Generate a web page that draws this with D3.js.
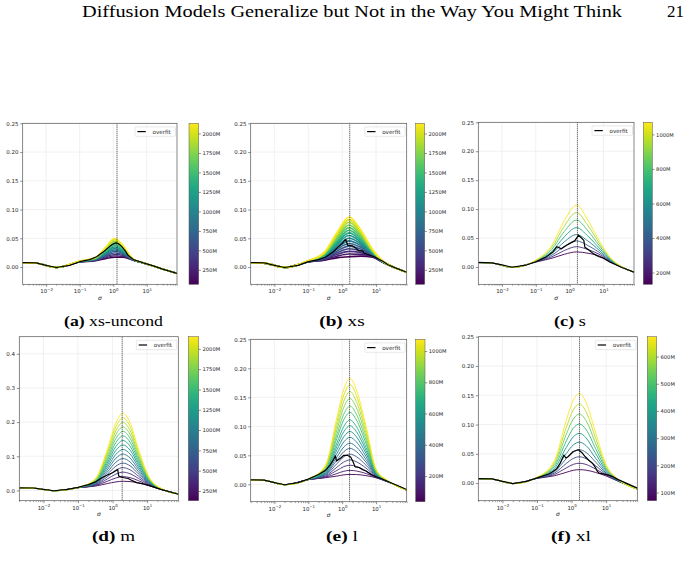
<!DOCTYPE html>
<html><head><meta charset="utf-8">
<script src="https://cdn.jsdelivr.net/npm/d3@7"></script>
<style>
html,body{margin:0;padding:0;background:#fff;}
svg{display:block;}
</style></head><body>
<svg id="fig" width="691" height="567"></svg>
<script>
// ---------------- text ----------------
const titleText = "Diffusion Models Generalize but Not in the Way You Might Think";
const pageNumber = "21";
const captionLetters = ["(a)", "(b)", "(c)", "(d)", "(e)", "(f)"];
const captionNames = ["xs-uncond", "xs", "s", "m", "l", "xl"];
const legendLabel = "overfit";
const xLabel = "σ";

// ---------------- ticks ----------------
const xTickValues = [0.01, 0.1, 1, 10];
const xTickExponents = ["\u22122", "\u22121", "0", "1"];
const yTicksSmall = [0, 0.05, 0.10, 0.15, 0.20, 0.25];
const yTicksM = [0, 0.1, 0.2, 0.3, 0.4];
const cbTicks2000 = [250, 500, 750, 1000, 1250, 1500, 1750, 2000];
const cbTicks1000 = [200, 400, 600, 800, 1000];
const cbTicks600 = [100, 200, 300, 400, 500, 600];

// ---------------- data: (a) xs-uncond ----------------
const sigmaA = [0.002, 0.005, 0.02, 0.1, 0.3, 0.6, 1.1, 2, 4, 8, 30, 80];
const itersA = [64, 223, 382, 541, 700, 859, 1018, 1177, 1336, 1495, 1654, 1813, 1972, 2131];
const curvesA = [
 [0.0075,0.0068,-0.0008,0.0085,0.0110,0.0145,0.0170,0.0170,0.0115,0.0068,-0.0035,-0.011],
 [0.0075,0.0068,-0.0008,0.0087,0.0115,0.0161,0.0195,0.0185,0.0117,0.0069,-0.0035,-0.011],
 [0.0075,0.0068,-0.0008,0.0088,0.0119,0.0177,0.0221,0.0201,0.0119,0.0069,-0.0035,-0.011],
 [0.0075,0.0068,-0.0008,0.0090,0.0124,0.0192,0.0246,0.0216,0.0121,0.0070,-0.0035,-0.011],
 [0.0075,0.0068,-0.0008,0.0091,0.0128,0.0208,0.0272,0.0232,0.0123,0.0070,-0.0035,-0.011],
 [0.0075,0.0068,-0.0008,0.0093,0.0133,0.0224,0.0297,0.0247,0.0125,0.0071,-0.0035,-0.011],
 [0.0075,0.0068,-0.0008,0.0094,0.0138,0.0240,0.0322,0.0262,0.0127,0.0071,-0.0035,-0.011],
 [0.0075,0.0068,-0.0008,0.0096,0.0142,0.0255,0.0348,0.0278,0.0128,0.0072,-0.0035,-0.011],
 [0.0075,0.0068,-0.0008,0.0097,0.0147,0.0271,0.0373,0.0293,0.0130,0.0072,-0.0035,-0.011],
 [0.0075,0.0068,-0.0008,0.0099,0.0152,0.0287,0.0398,0.0308,0.0132,0.0073,-0.0035,-0.011],
 [0.0075,0.0068,-0.0008,0.0100,0.0156,0.0303,0.0424,0.0324,0.0134,0.0073,-0.0035,-0.011],
 [0.0075,0.0068,-0.0008,0.0102,0.0161,0.0318,0.0449,0.0339,0.0136,0.0074,-0.0035,-0.011],
 [0.0075,0.0068,-0.0008,0.0103,0.0165,0.0334,0.0475,0.0355,0.0138,0.0074,-0.0035,-0.011],
 [0.0075,0.0068,-0.0008,0.0105,0.0170,0.0350,0.0500,0.0370,0.0140,0.0075,-0.0035,-0.011]
];
const overfitSigmaA = [0.002,0.005,0.01,0.02,0.05,0.1,0.2,0.32,0.5,0.79,1,1.2,1.41,1.78,2.24,2.82,4,8,15.8,30,80];
const overfitA = [0.0078,0.0072,0.003,-0.0008,0.003,0.0093,0.013,0.018,0.026,0.036,0.040,0.042,0.041,0.036,0.029,0.020,0.013,0.0072,0.002,-0.0035,-0.011];
const vlineA = 1.3;

// ---------------- data: (b) xs ----------------
const sigmaB = [0.002, 0.005, 0.02, 0.1, 0.3, 0.7, 1.6, 3.5, 8, 16, 35, 80];
const itersB = [64, 202, 340, 478, 615, 753, 891, 1029, 1167, 1305, 1442, 1580, 1718, 1856, 1994, 2131];
const curvesB = [
 [0.0075,0.0068,-0.0008,0.0088,0.0120,0.0160,0.0180,0.0190,0.0170,0.0080,-0.001,-0.009],
 [0.0075,0.0068,-0.0008,0.0089,0.0129,0.0189,0.0226,0.0221,0.0179,0.0081,-0.001,-0.009],
 [0.0075,0.0068,-0.0008,0.0091,0.0139,0.0219,0.0272,0.0251,0.0187,0.0083,-0.001,-0.009],
 [0.0075,0.0068,-0.0008,0.0092,0.0148,0.0248,0.0318,0.0282,0.0196,0.0084,-0.001,-0.009],
 [0.0075,0.0068,-0.0008,0.0094,0.0157,0.0277,0.0364,0.0313,0.0205,0.0085,-0.001,-0.009],
 [0.0075,0.0068,-0.0008,0.0095,0.0167,0.0307,0.0410,0.0343,0.0213,0.0087,-0.001,-0.009],
 [0.0075,0.0068,-0.0008,0.0097,0.0176,0.0336,0.0456,0.0374,0.0222,0.0088,-0.001,-0.009],
 [0.0075,0.0068,-0.0008,0.0098,0.0185,0.0365,0.0502,0.0405,0.0231,0.0089,-0.001,-0.009],
 [0.0075,0.0068,-0.0008,0.0100,0.0195,0.0395,0.0548,0.0435,0.0239,0.0091,-0.001,-0.009],
 [0.0075,0.0068,-0.0008,0.0101,0.0204,0.0424,0.0594,0.0466,0.0248,0.0092,-0.001,-0.009],
 [0.0075,0.0068,-0.0008,0.0103,0.0213,0.0453,0.0640,0.0497,0.0257,0.0093,-0.001,-0.009],
 [0.0075,0.0068,-0.0008,0.0104,0.0223,0.0483,0.0686,0.0527,0.0265,0.0095,-0.001,-0.009],
 [0.0075,0.0068,-0.0008,0.0106,0.0232,0.0512,0.0732,0.0558,0.0274,0.0096,-0.001,-0.009],
 [0.0075,0.0068,-0.0008,0.0107,0.0241,0.0541,0.0778,0.0589,0.0283,0.0097,-0.001,-0.009],
 [0.0075,0.0068,-0.0008,0.0109,0.0251,0.0571,0.0824,0.0619,0.0291,0.0099,-0.001,-0.009],
 [0.0075,0.0068,-0.0008,0.0110,0.0260,0.0600,0.0870,0.0650,0.0300,0.0100,-0.001,-0.009]
];
const overfitSigmaB = [0.002,0.005,0.01,0.02,0.05,0.1,0.2,0.32,0.56,0.79,1,1.26,1.35,1.45,2,2.5,3.16,4,4.47,6.3,8.9,12.6,15.8,22.4,35.5,80];
const overfitB = [0.0078,0.0072,0.003,-0.0008,0.003,0.0095,0.013,0.017,0.027,0.036,0.041,0.048,0.044,0.038,0.037,0.033,0.028,0.028,0.024,0.021,0.018,0.013,0.010,0.004,-0.001,-0.009];
const vlineB = 1.67;

// ---------------- data: (c) s ----------------
const sigmaC = [0.002, 0.005, 0.02, 0.1, 0.3, 0.7, 1.6, 3.5, 8, 16, 35, 80];
const itersC = [132, 266, 400, 534, 668, 802, 936, 1070];
const curvesC = [
 [0.0075,0.0068,-0.0008,0.0084,0.0151,0.0219,0.0260,0.0237,0.0183,0.0090,-0.0008,-0.009],
 [0.0075,0.0068,-0.0008,0.0088,0.0176,0.0284,0.0350,0.0300,0.0210,0.0098,-0.0007,-0.009],
 [0.0075,0.0068,-0.0008,0.0092,0.0204,0.0356,0.0450,0.0370,0.0240,0.0107,-0.0005,-0.009],
 [0.0075,0.0068,-0.0008,0.0096,0.0235,0.0435,0.0560,0.0447,0.0273,0.0117,-0.0004,-0.009],
 [0.0075,0.0068,-0.0008,0.0101,0.0268,0.0522,0.0680,0.0531,0.0309,0.0128,-0.0002,-0.009],
 [0.0075,0.0068,-0.0008,0.0106,0.0305,0.0615,0.0810,0.0622,0.0348,0.0139,0.0000,-0.009],
 [0.0075,0.0068,-0.0008,0.0112,0.0341,0.0709,0.0940,0.0713,0.0387,0.0151,0.0002,-0.009],
 [0.0075,0.0068,-0.0008,0.0117,0.0378,0.0802,0.1070,0.0804,0.0426,0.0163,0.0004,-0.009]
];
const overfitSigmaC = [0.002,0.005,0.01,0.02,0.05,0.1,0.2,0.32,0.42,0.5,0.56,0.79,1.12,1.41,1.66,1.82,2.24,2.63,2.82,3.55,5,7.1,10,15.8,35.5,80];
const overfitC = [0.0078,0.007,0.0035,-0.0005,0.003,0.009,0.017,0.026,0.035,0.033,0.031,0.037,0.042,0.045,0.051,0.055,0.050,0.046,0.034,0.030,0.023,0.018,0.015,0.008,-0.001,-0.009];
const vlineC = 1.7;

// ---------------- data: (d) m ----------------
const sigmaD = [0.002, 0.005, 0.02, 0.1, 0.32, 0.7, 1.25, 2, 3.2, 5.6, 11, 25, 80];
const itersD = [130, 265, 399, 534, 669, 803, 938, 1073, 1207, 1342, 1477, 1611, 1746, 1881, 2015, 2150];
const curvesD = [
 [0.0075,0.0068,-0.0008,0.0080,0.0129,0.0200,0.0250,0.0270,0.0260,0.0220,0.0141,0.0031,-0.010],
 [0.0075,0.0068,-0.0008,0.0081,0.0143,0.0267,0.0365,0.0403,0.0375,0.0287,0.0160,0.0033,-0.010],
 [0.0075,0.0068,-0.0008,0.0081,0.0158,0.0333,0.0480,0.0535,0.0490,0.0353,0.0178,0.0035,-0.010],
 [0.0075,0.0068,-0.0008,0.0081,0.0173,0.0399,0.0596,0.0668,0.0606,0.0419,0.0197,0.0037,-0.010],
 [0.0075,0.0068,-0.0008,0.0082,0.0187,0.0466,0.0712,0.0801,0.0722,0.0486,0.0216,0.0039,-0.010],
 [0.0075,0.0068,-0.0008,0.0082,0.0202,0.0532,0.0827,0.0934,0.0837,0.0552,0.0234,0.0041,-0.010],
 [0.0075,0.0068,-0.0008,0.0083,0.0216,0.0598,0.0942,0.1066,0.0952,0.0618,0.0253,0.0043,-0.010],
 [0.0075,0.0068,-0.0008,0.0083,0.0231,0.0665,0.1058,0.1199,0.1068,0.0685,0.0271,0.0045,-0.010],
 [0.0075,0.0068,-0.0008,0.0083,0.0246,0.0731,0.1174,0.1332,0.1184,0.0751,0.0290,0.0047,-0.010],
 [0.0075,0.0068,-0.0008,0.0084,0.0260,0.0797,0.1288,0.1464,0.1298,0.0817,0.0308,0.0049,-0.010],
 [0.0075,0.0068,-0.0008,0.0084,0.0275,0.0864,0.1404,0.1597,0.1414,0.0884,0.0327,0.0051,-0.010],
 [0.0075,0.0068,-0.0008,0.0085,0.0289,0.0930,0.1520,0.1730,0.1530,0.0950,0.0346,0.0053,-0.010],
 [0.0075,0.0068,-0.0008,0.0085,0.0304,0.0996,0.1635,0.1862,0.1645,0.1016,0.0364,0.0055,-0.010],
 [0.0075,0.0068,-0.0008,0.0085,0.0319,0.1063,0.1750,0.1995,0.1760,0.1083,0.0383,0.0057,-0.010],
 [0.0075,0.0068,-0.0008,0.0086,0.0333,0.1129,0.1866,0.2128,0.1876,0.1149,0.0401,0.0059,-0.010],
 [0.0075,0.0068,-0.0008,0.0086,0.0348,0.1195,0.1981,0.2260,0.1991,0.1215,0.0420,0.0061,-0.010]
];
const overfitSigmaD = [0.002,0.005,0.01,0.02,0.05,0.1,0.2,0.32,0.45,0.71,1,1.41,1.51,2,2.82,3.55,5,7.9,11.2,25,80];
const overfitD = [0.0078,0.0072,0.003,-0.0008,0.003,0.009,0.017,0.025,0.035,0.045,0.052,0.061,0.042,0.038,0.035,0.030,0.023,0.019,0.015,0.003,-0.011];
const vlineD = 1.9;

// ---------------- data: (e) l ----------------
const sigmaE = [0.002, 0.005, 0.02, 0.1, 0.32, 0.7, 1.12, 1.7, 2.63, 5, 10, 22.4, 80];
const itersE = [36, 101, 166, 231, 296, 361, 425, 490, 555, 620, 685, 750, 815, 880, 945, 1010, 1075];
const curvesE = [
 [0.0075,0.0068,-0.0008,0.0080,0.0113,0.0142,0.0163,0.0170,0.0168,0.0150,0.0112,0.0040,-0.010],
 [0.0075,0.0068,-0.0008,0.0080,0.0122,0.0185,0.0225,0.0240,0.0229,0.0187,0.0118,0.0041,-0.010],
 [0.0075,0.0068,-0.0008,0.0081,0.0133,0.0240,0.0305,0.0330,0.0308,0.0234,0.0126,0.0042,-0.010],
 [0.0075,0.0068,-0.0008,0.0081,0.0145,0.0295,0.0385,0.0420,0.0388,0.0280,0.0134,0.0044,-0.010],
 [0.0075,0.0068,-0.0008,0.0082,0.0158,0.0356,0.0474,0.0520,0.0476,0.0332,0.0143,0.0045,-0.010],
 [0.0075,0.0068,-0.0008,0.0082,0.0171,0.0417,0.0563,0.0620,0.0564,0.0384,0.0152,0.0046,-0.010],
 [0.0075,0.0068,-0.0008,0.0083,0.0183,0.0472,0.0643,0.0710,0.0643,0.0431,0.0160,0.0047,-0.010],
 [0.0075,0.0068,-0.0008,0.0083,0.0196,0.0533,0.0732,0.0810,0.0731,0.0483,0.0169,0.0049,-0.010],
 [0.0075,0.0068,-0.0008,0.0084,0.0209,0.0594,0.0821,0.0910,0.0819,0.0535,0.0178,0.0050,-0.010],
 [0.0075,0.0068,-0.0008,0.0084,0.0222,0.0655,0.0910,0.1010,0.0907,0.0587,0.0187,0.0051,-0.010],
 [0.0075,0.0068,-0.0008,0.0085,0.0235,0.0716,0.0999,0.1110,0.0995,0.0639,0.0196,0.0052,-0.010],
 [0.0075,0.0068,-0.0008,0.0085,0.0252,0.0795,0.1115,0.1240,0.1109,0.0707,0.0208,0.0054,-0.010],
 [0.0075,0.0068,-0.0008,0.0086,0.0266,0.0862,0.1213,0.1350,0.1206,0.0764,0.0218,0.0056,-0.010],
 [0.0075,0.0068,-0.0008,0.0087,0.0283,0.0941,0.1329,0.1480,0.1320,0.0832,0.0230,0.0057,-0.010],
 [0.0075,0.0068,-0.0008,0.0087,0.0299,0.1015,0.1436,0.1600,0.1426,0.0894,0.0241,0.0059,-0.010],
 [0.0075,0.0068,-0.0008,0.0088,0.0314,0.1088,0.1542,0.1720,0.1532,0.0956,0.0251,0.0060,-0.010],
 [0.0075,0.0068,-0.0008,0.0088,0.0328,0.1155,0.1640,0.1830,0.1628,0.1014,0.0261,0.0062,-0.010]
];
const overfitSigmaE = [0.002,0.005,0.01,0.02,0.05,0.1,0.2,0.32,0.45,0.56,0.63,0.68,0.89,1.12,1.41,1.78,2.09,2.4,3.16,4,5,7.1,10,14.1,20,80];
const overfitE = [0.0078,0.0072,0.003,-0.0008,0.003,0.009,0.017,0.024,0.034,0.043,0.049,0.040,0.045,0.050,0.050,0.047,0.039,0.030,0.029,0.025,0.023,0.017,0.013,0.010,0.006,-0.009];
const vlineE = 1.65;

// ---------------- data: (f) xl ----------------
const sigmaF = [0.002, 0.005, 0.02, 0.1, 0.32, 0.7, 1.12, 1.7, 2.63, 5, 10, 22.4, 80];
const itersF = [70, 137, 204, 271, 338, 405, 472, 539, 606, 673];
const curvesF = [
 [0.0075,0.0068,-0.0008,0.0081,0.0126,0.0184,0.0219,0.0230,0.0221,0.0182,0.0122,0.0032,-0.010],
 [0.0075,0.0068,-0.0008,0.0083,0.0148,0.0259,0.0320,0.0340,0.0319,0.0239,0.0139,0.0035,-0.010],
 [0.0075,0.0068,-0.0008,0.0085,0.0170,0.0334,0.0421,0.0450,0.0417,0.0296,0.0155,0.0038,-0.010],
 [0.0075,0.0068,-0.0008,0.0086,0.0194,0.0416,0.0531,0.0570,0.0524,0.0358,0.0173,0.0041,-0.010],
 [0.0075,0.0068,-0.0008,0.0088,0.0220,0.0504,0.0651,0.0700,0.0640,0.0426,0.0193,0.0045,-0.010],
 [0.0075,0.0068,-0.0008,0.0091,0.0250,0.0606,0.0789,0.0850,0.0773,0.0504,0.0215,0.0049,-0.010],
 [0.0075,0.0068,-0.0008,0.0093,0.0282,0.0715,0.0936,0.1010,0.0915,0.0587,0.0239,0.0053,-0.010],
 [0.0075,0.0068,-0.0008,0.0095,0.0316,0.0830,0.1093,0.1180,0.1067,0.0676,0.0265,0.0058,-0.010],
 [0.0075,0.0068,-0.0008,0.0098,0.0350,0.0946,0.1249,0.1350,0.1218,0.0764,0.0290,0.0062,-0.010],
 [0.0075,0.0068,-0.0008,0.0101,0.0386,0.1068,0.1415,0.1530,0.1378,0.0858,0.0317,0.0067,-0.010]
];
const overfitSigmaF = [0.002,0.005,0.01,0.02,0.05,0.1,0.23,0.37,0.47,0.6,0.68,0.79,1.12,1.58,2,2.5,3.16,4,5,5.6,6.3,11.2,15.8,22.4,80];
const overfitF = [0.0078,0.0072,0.003,-0.0008,0.003,0.009,0.016,0.024,0.034,0.048,0.043,0.045,0.054,0.057,0.052,0.045,0.039,0.034,0.026,0.020,0.017,0.014,0.011,0.006,-0.0085];
const vlineF = 1.7;

// ---------------- assemble ----------------
const panels = [
  {sigma: sigmaA, curves: curvesA, iters: itersA, ofS: overfitSigmaA, ofV: overfitA, vline: vlineA, yTicks: yTicksSmall, yFmt: ".2f", yDom: [-0.03, 0.25], cbTicks: cbTicks2000},
  {sigma: sigmaB, curves: curvesB, iters: itersB, ofS: overfitSigmaB, ofV: overfitB, vline: vlineB, yTicks: yTicksSmall, yFmt: ".2f", yDom: [-0.03, 0.25], cbTicks: cbTicks2000},
  {sigma: sigmaC, curves: curvesC, iters: itersC, ofS: overfitSigmaC, ofV: overfitC, vline: vlineC, yTicks: yTicksSmall, yFmt: ".2f", yDom: [-0.03, 0.25], cbTicks: cbTicks1000},
  {sigma: sigmaD, curves: curvesD, iters: itersD, ofS: overfitSigmaD, ofV: overfitD, vline: vlineD, yTicks: yTicksM, yFmt: ".1f", yDom: [-0.03, 0.45], cbTicks: cbTicks2000},
  {sigma: sigmaE, curves: curvesE, iters: itersE, ofS: overfitSigmaE, ofV: overfitE, vline: vlineE, yTicks: yTicksSmall, yFmt: ".2f", yDom: [-0.03, 0.25], cbTicks: cbTicks1000},
  {sigma: sigmaF, curves: curvesF, iters: itersF, ofS: overfitSigmaF, ofV: overfitF, vline: vlineF, yTicks: yTicksSmall, yFmt: ".2f", yDom: [-0.03, 0.25], cbTicks: cbTicks600}
];

// layout (pixel geometry)
const layouts = [
  {x0: 22.7, x1: 177, y0: 123.3, y1: 284.3, c0: 189, c1: 198.7, lw: 1.35, capX: 113.5, capY: 326, capW: 99},
  {x0: 250.7, x1: 406.7, y0: 123.3, y1: 284.3, c0: 415.7, c1: 424.7, lw: 1.6, capX: 342, capY: 326, capW: 45.5},
  {x0: 478.3, x1: 634, y0: 122.3, y1: 284.3, c0: 643.3, c1: 652.3, lw: 0.9, capX: 570, capY: 326, capW: 32},
  {x0: 19.3, x1: 178.3, y0: 336.7, y1: 500.7, c0: 188.3, c1: 198.7, lw: 0.9, capX: 113.5, capY: 541, capW: 43},
  {x0: 250.7, x1: 406.7, y0: 339.3, y1: 501.7, c0: 415.7, c1: 425, lw: 0.9, capX: 342, capY: 541, capW: 32},
  {x0: 478.3, x1: 637.3, y0: 336.7, y1: 500.7, c0: 647.3, c1: 656.7, lw: 0.9, capX: 571, capY: 541, capW: 40}
];

const FONT = "DejaVu Sans, sans-serif";
const SERIF = "'Liberation Serif', 'DejaVu Serif', serif";
const TXT = "#262626";
const svg = d3.select("#fig");
const defs = svg.append("defs");

// viridis gradient for colorbars
const grad = defs.append("linearGradient").attr("id", "viridisGrad")
  .attr("x1", 0).attr("y1", 1).attr("x2", 0).attr("y2", 0);
d3.range(0, 1.0001, 0.02).forEach(t => {
  grad.append("stop").attr("offset", t).attr("stop-color", d3.interpolateViridis(t));
});

// title
svg.append("text").attr("x", 352).attr("y", 17).attr("text-anchor", "middle")
  .attr("font-family", SERIF).attr("font-size", 17).attr("fill", "#000")
  .attr("textLength", 540).attr("lengthAdjust", "spacingAndGlyphs").text(titleText);
svg.append("text").attr("x", 684).attr("y", 17).attr("text-anchor", "end")
  .attr("font-family", SERIF).attr("font-size", 17).attr("fill", "#000").text(pageNumber);

panels.forEach((p, i) => {
  const L = layouts[i];
  const g = svg.append("g");
  const x = d3.scaleLog().domain([0.002, 80]).range([L.x0, L.x1]);
  const y = d3.scaleLinear().domain(p.yDom).range([L.y1, L.y0]);
  const cExt = d3.extent(p.iters);
  const color = d3.scaleSequential(d3.interpolateViridis).domain(cExt);

  // grid
  g.append("g").selectAll("line").data(xTickValues).join("line")
    .attr("x1", d => x(d)).attr("x2", d => x(d)).attr("y1", L.y0).attr("y2", L.y1)
    .attr("stroke", "#e8e8e8").attr("stroke-width", 0.6);
  g.append("g").selectAll("line").data(p.yTicks).join("line")
    .attr("x1", L.x0).attr("x2", L.x1).attr("y1", d => y(d)).attr("y2", d => y(d))
    .attr("stroke", "#e8e8e8").attr("stroke-width", 0.6);

  defs.append("clipPath").attr("id", "clip" + i).append("rect")
    .attr("x", L.x0).attr("y", L.y0).attr("width", L.x1 - L.x0).attr("height", L.y1 - L.y0);
  const plot = g.append("g").attr("clip-path", `url(#clip${i})`);

  const line = d3.line().x((d, j) => x(p.sigma[j])).y(d => y(d)).curve(d3.curveMonotoneX);
  plot.append("g").selectAll("path").data(p.curves).join("path")
    .attr("d", line).attr("fill", "none")
    .attr("stroke", (d, k) => color(p.iters[k])).attr("stroke-width", L.lw);

  const ofLine = d3.line().x(d => x(d[0])).y(d => y(d[1]));
  plot.append("path").datum(d3.zip(p.ofS, p.ofV)).attr("d", ofLine)
    .attr("fill", "none").attr("stroke", "#000").attr("stroke-width", 1.2)
    .attr("stroke-linejoin", "round");

  plot.append("line").attr("x1", x(p.vline)).attr("x2", x(p.vline))
    .attr("y1", L.y0).attr("y2", L.y1).attr("stroke", "#000")
    .attr("stroke-width", 0.8).attr("stroke-dasharray", "1,1");

  // x axis
  const xAx = g.append("g").attr("transform", `translate(0,${L.y1})`)
    .call(d3.axisBottom(x).tickValues(xTickValues).tickSize(2.5).tickPadding(1.8).tickFormat(() => ""));
  const minor = x.ticks().filter(v => !xTickValues.includes(v) && v >= 0.002 && v <= 80);
  g.append("g").attr("transform", `translate(0,${L.y1})`)
    .call(d3.axisBottom(x).tickValues(minor).tickSize(1.4).tickFormat(() => ""))
    .call(a => a.select(".domain").remove())
    .selectAll("line").attr("stroke", "#444").attr("stroke-width", 0.5);
  xAx.select(".domain").remove();
  xAx.selectAll("line").attr("stroke", "#444").attr("stroke-width", 0.6);
  xAx.selectAll(".tick text").each(function(d, k) {
    const t = d3.select(this).attr("font-family", FONT).attr("font-size", 5.4).attr("fill", TXT).attr("dy", "0.9em");
    t.append("tspan").text("10");
    t.append("tspan").attr("font-size", 3.9).attr("dy", -2.4).text(xTickExponents[k]);
  });
  g.append("text").attr("x", (L.x0 + L.x1) / 2).attr("y", L.y1 + 15.5)
    .attr("text-anchor", "middle").attr("font-family", FONT).attr("font-style", "italic")
    .attr("font-size", 6).attr("fill", TXT).text(xLabel);

  // y axis
  const yAx = g.append("g").attr("transform", `translate(${L.x0},0)`)
    .call(d3.axisLeft(y).tickValues(p.yTicks).tickSize(2.5).tickPadding(1.8).tickFormat(d3.format(p.yFmt)));
  yAx.select(".domain").remove();
  yAx.selectAll("line").attr("stroke", "#444").attr("stroke-width", 0.6);
  yAx.selectAll("text").attr("font-family", FONT).attr("font-size", 5.5).attr("fill", TXT);

  // frame
  g.append("rect").attr("x", L.x0).attr("y", L.y0).attr("width", L.x1 - L.x0).attr("height", L.y1 - L.y0)
    .attr("fill", "none").attr("stroke", "#555").attr("stroke-width", 0.7);

  // legend
  const lx = L.x1 - 42, ly = L.y0 + 3.6;
  g.append("rect").attr("x", lx).attr("y", ly).attr("width", 40.5).attr("height", 9.4).attr("rx", 1)
    .attr("fill", "#fff").attr("fill-opacity", 0.85).attr("stroke", "#d0d0d0").attr("stroke-width", 0.5);
  g.append("line").attr("x1", lx + 2.4).attr("x2", lx + 10.8).attr("y1", ly + 4.7).attr("y2", ly + 4.7)
    .attr("stroke", "#000").attr("stroke-width", 1.2);
  g.append("text").attr("x", lx + 17.5).attr("y", ly + 4.7).attr("dy", "0.35em")
    .attr("font-family", FONT).attr("font-size", 5.6).attr("fill", TXT).text(legendLabel);

  // colorbar
  g.append("rect").attr("x", L.c0).attr("y", L.y0).attr("width", L.c1 - L.c0).attr("height", L.y1 - L.y0)
    .attr("fill", "url(#viridisGrad)").attr("stroke", "#555").attr("stroke-width", 0.5);
  const cy = d3.scaleLinear().domain(cExt).range([L.y1, L.y0]);
  const cAx = g.append("g").attr("transform", `translate(${L.c1},0)`)
    .call(d3.axisRight(cy).tickValues(p.cbTicks).tickSize(2.2).tickPadding(1.6).tickFormat(d => d + "M"));
  cAx.select(".domain").remove();
  cAx.selectAll("line").attr("stroke", "#444").attr("stroke-width", 0.6);
  cAx.selectAll("text").attr("font-family", FONT).attr("font-size", 5.2).attr("fill", TXT);

  // caption
  const cap = svg.append("text").attr("x", L.capX).attr("y", L.capY).attr("text-anchor", "middle")
    .attr("font-family", SERIF).attr("font-size", 15).attr("fill", "#000")
    .attr("textLength", L.capW).attr("lengthAdjust", "spacingAndGlyphs");
  cap.append("tspan").attr("font-weight", "bold").text(captionLetters[i]);
  cap.append("tspan").text(" " + captionNames[i]);
});
</script></body></html>
